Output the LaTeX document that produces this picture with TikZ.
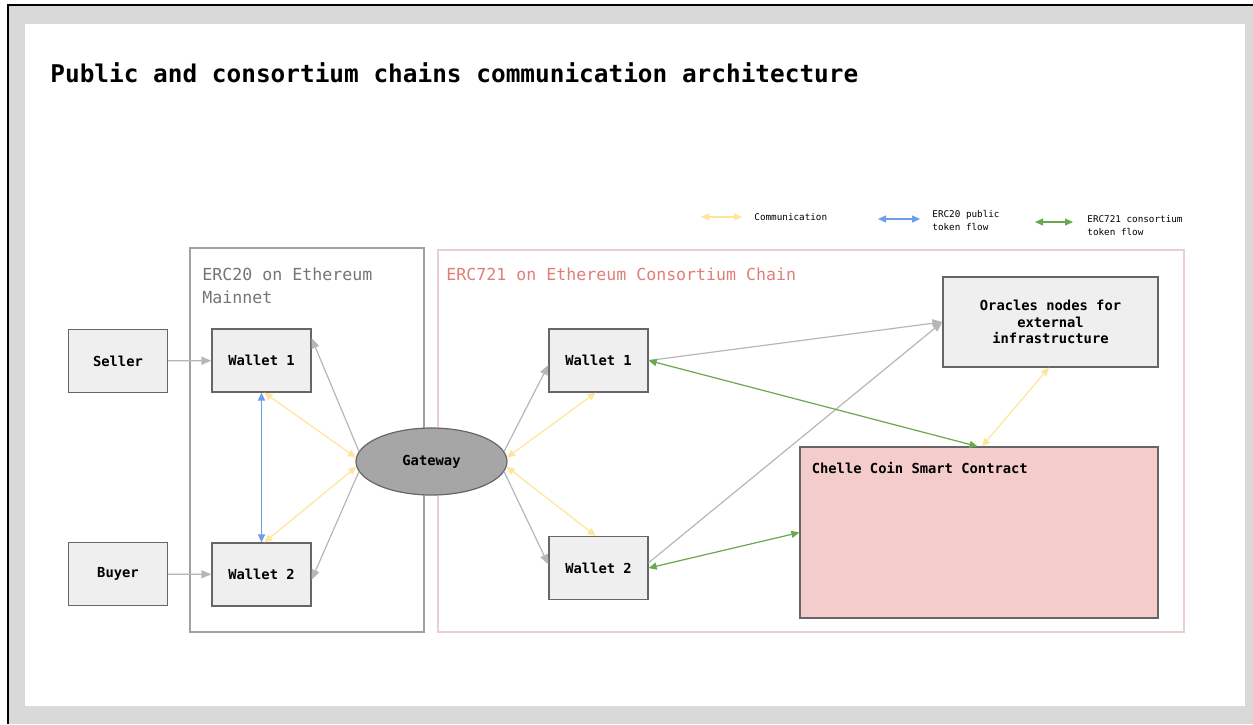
\documentclass[tikz,border=0pt]{standalone}
\usepackage{fontspec}
\setmonofont{DejaVu Sans Mono}
\usetikzlibrary{shapes.geometric,arrows.meta}
\definecolor{boxfill}{HTML}{EFEFEF}
\definecolor{boxline}{HTML}{666666}
\definecolor{gatefill}{HTML}{A6A6A6}
\definecolor{contractfill}{HTML}{F4CCCC}
\definecolor{commline}{HTML}{FFE599}
\definecolor{publine}{HTML}{6D9EEB}
\definecolor{consline}{HTML}{6AA84F}
\definecolor{linkline}{HTML}{B7B7B7}
\definecolor{mainnetline}{HTML}{A0A0A0}
\definecolor{mainnettext}{HTML}{757575}
\definecolor{consframe}{HTML}{EBCFCF}
\definecolor{constext}{HTML}{E07F78}
\definecolor{framegray}{HTML}{D9D9D9}

\begin{document}
\begin{tikzpicture}[x=0.5pt,y=-0.5pt]
\tikzstyle{box} = [draw=boxline, fill=boxfill, line width=0.6pt, minimum width=49.5pt, minimum height=31.5pt, inner sep=1pt, align=center, font=\ttfamily\bfseries\fontsize{6.9}{8.3}\selectfont]
\tikzstyle{chain} = [anchor=north west, inner sep=0pt, align=left, font=\ttfamily\fontsize{8.3}{11.5}\selectfont]
\tikzstyle{legend} = [anchor=west, inner sep=0pt, align=left, font=\ttfamily\fontsize{4.65}{6.5}\selectfont]
\tikzstyle{link} = [draw=linkline, line width=0.6pt, -{Triangle[length=5pt,width=4pt]}]
\tikzstyle{comm} = [draw=commline, line width=0.6pt, {Triangle[length=4pt,width=3.5pt]}-{Triangle[length=4pt,width=3.5pt]}]
\tikzstyle{pub} = [draw=publine, line width=0.6pt, {Triangle[length=4pt,width=3.5pt]}-{Triangle[length=4pt,width=3.5pt]}]
\tikzstyle{cons} = [draw=consline, line width=0.6pt, {Triangle[length=4pt,width=3.5pt]}-{Triangle[length=4pt,width=3.5pt]}]

\useasboundingbox (0,0) rectangle (1253,724);
\fill[framegray] (8,5) rectangle (1253,724);
\fill[white] (25,24) rectangle (1245,706);
\draw[black, line width=1.2pt] (8,724) -- (8,5) -- (1253,5);

\node[anchor=base west, inner sep=0pt, font=\ttfamily\bfseries\fontsize{12.2}{14}\selectfont] (title) at (50,82) {Public and consortium chains communication architecture};

% legend
\coordinate (cma) at (701,217); \coordinate (cmb) at (742,217);
\coordinate (pba) at (878,219); \coordinate (pbb) at (920,219);
\coordinate (csa) at (1035,222); \coordinate (csb) at (1073,222);
\draw[comm] (cma) -- (cmb);
\draw[pub] (pba) -- (pbb);
\draw[cons] (csa) -- (csb);
\node[legend] (lgcomm) at (754,217) {Communication};
\node[legend] (lgpub) at (932,221) {ERC20 public\\token flow};
\node[legend] (lgcons) at (1087,226) {ERC721 consortium\\token flow};

% chains
\draw[mainnetline, line width=0.6pt] (190,248) rectangle (424,632);
\draw[consframe, line width=0.6pt] (438,250) rectangle (1184,632);
\node[chain, text=mainnettext] (lblmain) at (202,267) {ERC20 on Ethereum\\Mainnet};
\node[chain, text=constext] (lblcons) at (446,267) {ERC721 on Ethereum Consortium Chain};

\node[box] (seller) at (118,361) {Seller};
\node[box] (buyer) at (118,574) {Buyer};
\node[box] (w1a) at (261.5,360.5) {Wallet 1};
\node[box] (w2a) at (261.5,574.5) {Wallet 2};
\node[draw=boxline, fill=gatefill, line width=0.6pt, ellipse, minimum width=75.5pt, minimum height=33.5pt, inner sep=0pt, font=\ttfamily\bfseries\fontsize{6.9}{8.3}\selectfont] (gate) at (431.5,461.5) {Gateway};
\node[box] (w1b) at (598.5,360.5) {Wallet 1};
\node[box] (w2b) at (598.5,568) {Wallet 2};
\node[box, minimum width=107.5pt, minimum height=45pt] (orc) at (1050.5,322) {Oracles nodes for\\external\\infrastructure};
\node[box, fill=contractfill, minimum width=179pt, minimum height=85.5pt,
  label={[anchor=north west, inner sep=0pt, xshift=6pt, yshift=-7.5pt, font=\ttfamily\bfseries\fontsize{6.9}{8.3}\selectfont]north west:Chelle Coin Smart Contract}] (chelle) at (979,532.5) {};

% public side
\draw[link] (seller) -- (w1a);
\draw[link] (buyer) -- (w2a);
\draw[link] (gate.172) -- (w1a.24);
\draw[link] (gate.188) -- (w2a.-6);
\draw[comm] (w1a.-85) -- (gate.177);
\draw[comm] (w2a.85) -- (gate.184);
\draw[pub] (w1a.south) -- (w2a.north);

% consortium side
\draw[link] (gate.8) -- (w1b.185);
\draw[link] (gate.-8) -- (w2b.176);
\draw[comm] (gate.3) -- (w1b.-95);
\draw[comm] (gate.-4) -- (w2b.95);
\draw[link] (w1b.east) -- (orc.west);
\draw[link] (w2b.6) -- (orc.west);
\draw[cons] (w1b.east) -- (chelle.91);
\draw[cons] (w2b.east) -- (chelle.west);
\draw[comm] (orc.-92) -- (chelle.88);

\end{tikzpicture}
\end{document}
